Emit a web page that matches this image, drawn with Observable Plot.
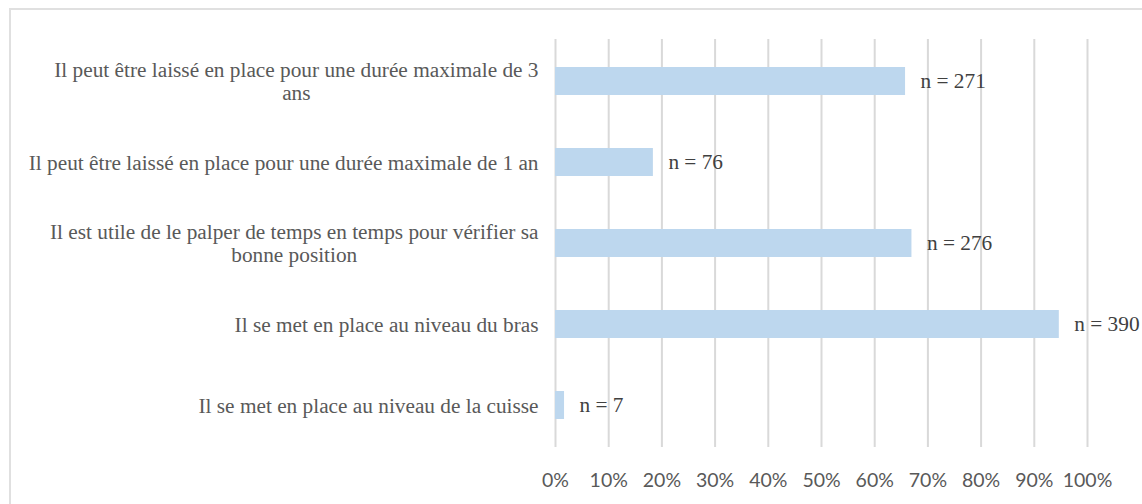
<!DOCTYPE html>
<html>
<head>
<meta charset="utf-8">
<script src="https://cdn.jsdelivr.net/npm/d3@7"></script>
<script src="https://cdn.jsdelivr.net/npm/@observablehq/plot@0.6"></script>
<style>
  html, body { margin: 0; padding: 0; background: #fff; overflow: hidden; }
  #wrap { position: relative; width: 1142px; height: 504px; }
  #frame { position: absolute; left: 9px; top: 8px; width: 1200px; height: 600px; border: 2px solid #e0e0e0; box-sizing: border-box; }
  #chart { position: absolute; left: 0; top: 0; }
</style>
</head>
<body>
<div id="wrap"><div id="frame"></div><div id="chart"></div></div>
<script>
const categories = [
  "Il peut être laissé en place pour une durée maximale de 3\nans",
  "Il peut être laissé en place pour une durée maximale de 1 an",
  "Il est utile de le palper de temps en temps pour vérifier sa\nbonne position",
  "Il se met en place au niveau du bras",
  "Il se met en place au niveau de la cuisse"
];
const shares = [0.658, 0.184, 0.670, 0.947, 0.017];
const counts = [271, 76, 276, 390, 7];
const xTicks = [0, 0.1, 0.2, 0.3, 0.4, 0.5, 0.6, 0.7, 0.8, 0.9, 1.0];

const data = categories.map((c, i) => ({category: c, share: shares[i], n: counts[i]}));

const serif = "Liberation Serif";

const chart = Plot.plot({
  width: 1142,
  height: 504,
  marginLeft: 555,
  marginRight: 55,
  marginTop: 39,
  marginBottom: 57,
  style: {background: "transparent", overflow: "visible"},
  x: {domain: [0, 1], label: null},
  y: {domain: categories, paddingInner: 0.657, paddingOuter: 0.3285, label: null},
  marks: [
    Plot.ruleX(xTicks, {stroke: "#d9d9d9", strokeWidth: 2}),
    Plot.barX(data, {x: "share", y: "category", fill: "#bdd7ee"}),
    Plot.text(data, {x: "share", y: "category", text: d => "n = " + d.n, textAnchor: "start", dx: 15,
      fontFamily: serif, fontSize: 21.3, fill: "#404040"}),
    Plot.axisX({ticks: xTicks, tickFormat: d3.format(".0%"), tickSize: 0, tickPadding: 26, label: null,
      fontFamily: "Lato", fontSize: 19.5, fill: "#595959"}),
    Plot.axisY({tickSize: 0, tickPadding: 17, label: null, fontFamily: serif, fontSize: 21.3, fill: "#595959", lineHeight: 1.06})
  ]
});
document.getElementById("chart").appendChild(chart);

// center shorter lines of wrapped category labels within their right-aligned block
chart.querySelectorAll('[aria-label="y-axis tick label"] text').forEach(t => {
  const spans = Array.from(t.querySelectorAll("tspan"));
  if (spans.length > 1) {
    const widths = spans.map(s => s.getComputedTextLength());
    const W = Math.max(...widths);
    spans.forEach((s, i) => s.setAttribute("x", -(W - widths[i]) / 2));
  }
});
</script>
</body>
</html>
